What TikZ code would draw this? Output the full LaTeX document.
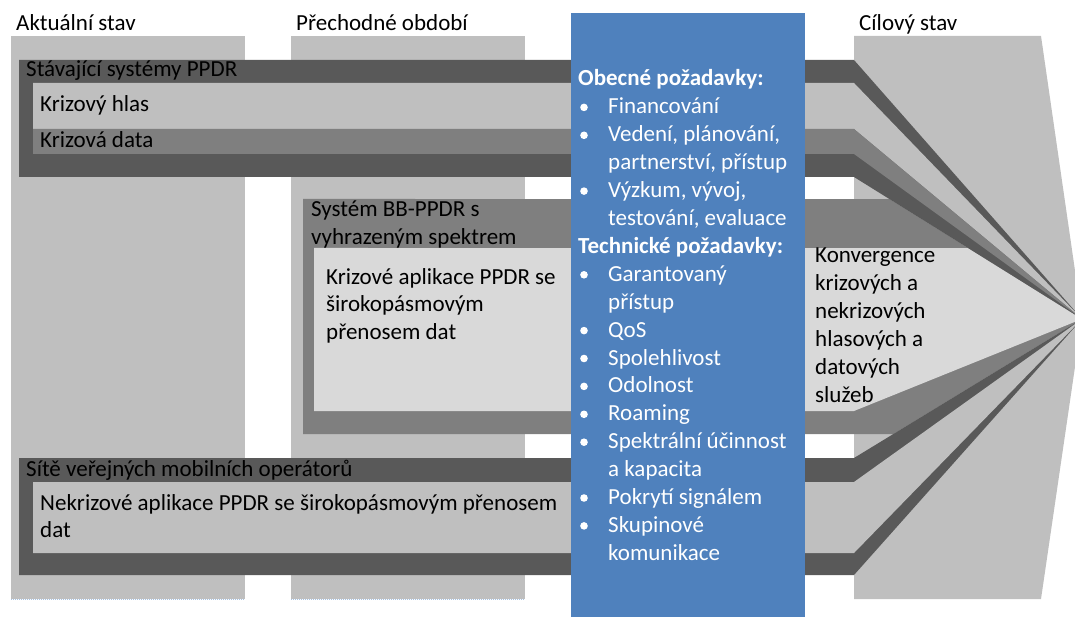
\documentclass[tikz,border=0pt]{standalone}
\usepackage{fontspec}
\setmainfont{Carlito}
\usepackage{tikz}

\definecolor{bandDark}{HTML}{595959}
\definecolor{bandMid}{HTML}{7F7F7F}
\definecolor{bandLight}{HTML}{BFBFBF}
\definecolor{bandPale}{HTML}{D9D9D9}
\definecolor{reqBlue}{HTML}{4F81BD}
\definecolor{edgeBlue}{HTML}{A9C4E4}

\tikzset{
	lbl/.style={anchor=base west,inner sep=0pt,font=\fontsize{23}{27.9}\selectfont},
	reqtext/.style={lbl,text=white},
	reqhead/.style={reqtext,font=\fontsize{23}{27.9}\selectfont\bfseries}
}

\begin{document}
\begin{tikzpicture}[x=1pt,y=-1pt]
	\useasboundingbox (0,0) rectangle (1075,617);
	\clip (0,0) rectangle (1075,617);
	\coordinate (T) at (1082,319);

	% columns
	\fill[bandLight] (11,36) rectangle (245,599);
	\fill[bandLight] (291,36) rectangle (525,599);
	\fill[bandLight] (854,36) -- (1041,36) -- (T) -- (1041,599) -- (854,599) -- cycle;
	\draw[edgeBlue,densely dotted,line width=1pt] (11,599.5) -- (245,599.5) (291,599.5) -- (525,599.5);

	% BB-PPDR band
	\fill[bandMid] (303,199) -- (intersection of 854,177--T and 0,199--1,199) -- (T)
		-- (intersection of 854,458--T and 0,434--1,434) -- (303,434) -- cycle;
	\fill[bandPale] (314,248) -- (intersection of 854,177--T and 0,248--1,248) -- (T)
		-- (854,411) -- (314,411) -- cycle;

	% converging bands
	\foreach \c/\xa/\ya/\yb in {bandDark/19/60/177,bandLight/33/83/129,bandMid/33/129/154,
		bandDark/19/458/575,bandLight/33/482/553}
		\fill[\c] (\xa,\ya) -- (854,\ya) -- (T) -- (854,\yb) -- (\xa,\yb) -- cycle;

	\fill[reqBlue] (571,13) rectangle (805,617);

	% multi-line labels sit on their last baseline
	\node[lbl] (aktual) at (16,31) {Aktuální stav};
	\node[lbl] (prechod) at (296,31) {Přechodné období};
	\node[lbl] (cil) at (859,31) {Cílový stav};
	\node[lbl] (stavajici) at (26,77) {Stávající systémy PPDR};
	\node[lbl] (hlas) at (40,112) {Krizový hlas};
	\node[lbl] (data) at (40,148) {Krizová data};
	\node[lbl,align=left] (bbppdr) at (311,244.9) {Systém BB-PPDR s\\vyhrazeným spektrem};
	\node[lbl,align=left] (krizapp) at (326,339.8) {Krizové aplikace PPDR se\\širokopásmovým\\přenosem dat};
	\node[lbl,align=left] (konv) at (815,402.2) {Konvergence\\krizových a\\nekrizových\\hlasových a\\datových\\služeb};
	\node[lbl] (site) at (26,476) {Sítě veřejných mobilních operátorů};
	\node[lbl,align=left] (nekrizapp) at (40,537.9) {Nekrizové aplikace PPDR se širokopásmovým přenosem\\dat};

	% requirements list
	\foreach \k/\t [count=\n] in {h/{Obecné požadavky:},b/Financování,b/{Vedení, plánování,},
		c/{partnerství, přístup},b/{Výzkum, vývoj,},c/{testování, evaluace},h/{Technické požadavky:},
		b/Garantovaný,c/přístup,b/QoS,b/Spolehlivost,b/Odolnost,b/Roaming,b/{Spektrální účinnost},
		c/{a kapacita},b/{Pokrytí signálem},b/Skupinové,c/komunikace}{
		\pgfmathsetmacro{\yb}{86+(\n-1)*27.9}
		\if\k h\node[reqhead] (req\n) at (578,\yb) {\t};
		\else\node[reqtext] (req\n) at (608,\yb) {\t};\fi
		\if\k b\fill[white] (584,\yb-6.5) circle (3.8pt);\fi
	}
\end{tikzpicture}
\end{document}
